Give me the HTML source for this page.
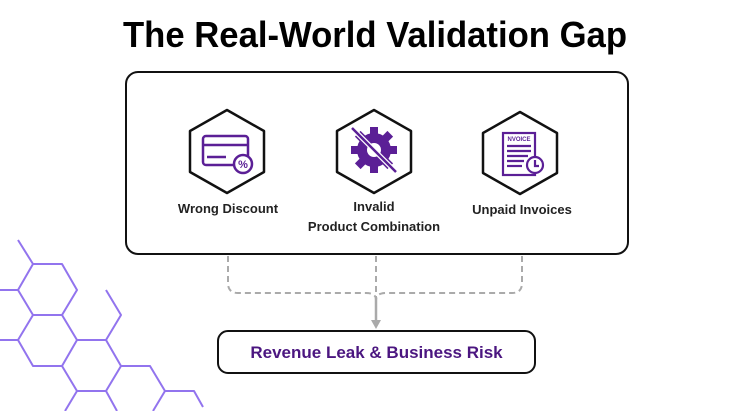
<!DOCTYPE html>
<html><head><meta charset="utf-8"><style>
html,body{margin:0;padding:0;background:#fff;}
svg{display:block;}
</style></head><body>
<svg width="750" height="411" viewBox="0 0 750 411" xmlns="http://www.w3.org/2000/svg" font-family="Liberation Sans, sans-serif">
<text x="375" y="47" text-anchor="middle" font-size="36" font-weight="bold" fill="#000" textLength="504" lengthAdjust="spacingAndGlyphs">The Real-World Validation Gap</text>
<rect x="126" y="72" width="502" height="182" rx="12" fill="#fff" stroke="#111" stroke-width="2"/>
<!-- hex lattice -->
<g fill="none" stroke="#9274ee" stroke-width="2" stroke-linejoin="round">
<polyline points="18,240 33,264 62,264 77,290 62,315 33,315 18,290 33,264"/>
<line x1="0" y1="290" x2="18" y2="290"/>
<polyline points="33,315 18,340 33,366 62,366 77,340 62,315"/>
<line x1="0" y1="340" x2="18" y2="340"/>
<polyline points="77,340 106,340 121,315 106,290"/>
<polyline points="106,340 121,366 106,391 77,391 62,366"/>
<polyline points="121,366 150,366 165,391 194,391 203,407"/>
<line x1="165" y1="391" x2="153" y2="411"/>
<line x1="77" y1="391" x2="65" y2="411"/>
<line x1="106" y1="391" x2="117" y2="411"/>
</g>
<!-- hexagons -->
<g fill="#fff" stroke="#111" stroke-width="2.5" stroke-linejoin="round">
<polygon points="227,110 264,131 264,172 227,193 190,172 190,131"/>
<polygon points="374,110 411,131 411,172 374,193 337,172 337,131"/>
<polygon points="520,112 557,133 557,173 520,194 483,173 483,133"/>
</g>
<!-- icon 1 card -->
<g fill="none" stroke="#5b1f96" stroke-width="2.5">
<rect x="203" y="136" width="45" height="29" rx="3"/>
<line x1="203" y1="145" x2="248" y2="145"/>
<line x1="207" y1="157" x2="226" y2="157"/>
<circle cx="243" cy="164" r="9" fill="#fff"/>
</g>
<text x="243" y="168" text-anchor="middle" font-size="11" font-weight="bold" fill="#5b1f96">%</text>
<!-- icon 2 gear -->
<g fill="#5b1f96">
<circle cx="374" cy="150" r="17"/>
<rect x="370" y="127" width="8" height="46"/>
<rect x="351" y="146" width="46" height="8"/>
<rect x="370" y="127" width="8" height="46" transform="rotate(45 374 150)"/>
<rect x="370" y="127" width="8" height="46" transform="rotate(-45 374 150)"/>
</g>
<circle cx="374" cy="150" r="7" fill="#fff"/>
<line x1="352" y1="128" x2="396" y2="172" stroke="#fff" stroke-width="5"/>
<line x1="352" y1="128" x2="396" y2="172" stroke="#5b1f96" stroke-width="2.5"/>
<!-- icon 3 invoice -->
<g fill="none" stroke="#5b1f96" stroke-width="2.2">
<rect x="503" y="133" width="32" height="42"/>
<line x1="507" y1="146" x2="531" y2="146"/>
<line x1="507" y1="151" x2="531" y2="151"/>
<line x1="507" y1="156" x2="528" y2="156"/>
<line x1="507" y1="161" x2="524" y2="161"/>
<line x1="507" y1="166" x2="522" y2="166"/>
<circle cx="535" cy="165" r="8" fill="#fff"/>
<polyline points="535,160 535,166 539,166"/>
</g>
<text x="519" y="141" text-anchor="middle" font-size="6" font-weight="bold" fill="#5b1f96">NVOICE</text>
<!-- labels -->
<g font-size="13" font-weight="bold" fill="#222" text-anchor="middle">
<text x="228" y="213">Wrong Discount</text>
<text x="374" y="211">Invalid</text>
<text x="374" y="231">Product Combination</text>
<text x="522" y="214">Unpaid Invoices</text>
</g>
<!-- connectors -->
<g fill="none" stroke="#aaa" stroke-width="2" stroke-dasharray="6,4">
<path d="M228,256 V283 Q228,293 238,293 H366 Q376,293 376,300"/>
<path d="M522,256 V283 Q522,293 512,293 H386 Q376,293 376,300"/>
<line x1="376" y1="256" x2="376" y2="300"/>
</g>
<line x1="376" y1="298" x2="376" y2="322" stroke="#aaa" stroke-width="2.5"/>
<polygon points="371,320 381,320 376,329" fill="#aaa"/>
<rect x="218" y="331" width="317" height="42" rx="10" fill="#fff" stroke="#111" stroke-width="2"/>
<text x="376.5" y="358" text-anchor="middle" font-size="17" font-weight="bold" fill="#4b1680">Revenue Leak &amp; Business Risk</text>
</svg>
</body></html>
